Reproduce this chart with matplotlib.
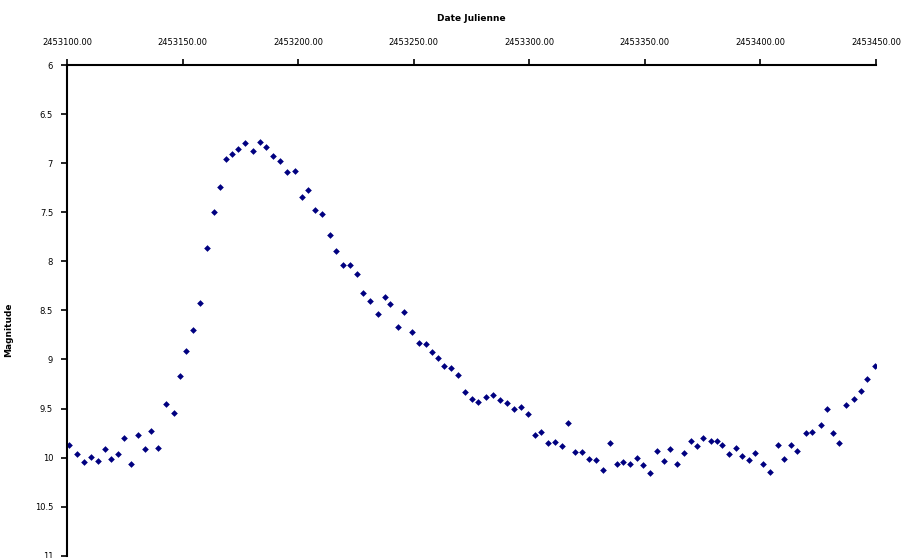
import matplotlib.pyplot as plt
from matplotlib.ticker import FormatStrFormatter, MultipleLocator

JD0 = 2453100.0    # first day on the time axis

# days after JD0 and the measured magnitude
days = [0.9, 4.3, 7.4, 10.4, 13.4, 16.5, 19.0, 22.1, 24.7, 27.7,
        30.7, 33.8, 36.4, 39.4, 42.9, 46.3, 48.9, 51.5, 54.5, 57.6,
        60.6, 63.6, 66.2, 68.8, 71.4, 74.0, 77.1, 80.5, 83.6, 86.2,
        89.2, 92.2, 95.3, 98.7, 101.8, 104.3, 107.4, 110.4, 113.9, 116.4,
        119.5, 122.5, 125.5, 128.1, 131.2, 134.6, 137.7, 139.8, 143.3, 145.9,
        149.4, 152.4, 155.4, 158.0, 160.6, 163.2, 166.2, 169.3, 172.3, 175.3,
        177.9, 181.4, 184.4, 187.4, 190.5, 193.5, 196.5, 199.6, 202.6, 205.2,
        208.2, 211.3, 214.3, 216.9, 219.9, 222.9, 226.0, 229.0, 232.0, 235.1,
        238.1, 240.7, 243.7, 246.8, 249.3, 252.4, 255.4, 258.4, 261.0, 264.1,
        267.1, 270.1, 272.7, 275.3, 278.4, 281.0, 283.5, 286.6, 289.6, 292.2,
        295.2, 297.8, 300.9, 304.3, 307.4, 310.4, 313.4, 316.0, 319.5, 322.5,
        326.0, 329.0, 331.6, 334.2, 337.2, 340.3, 343.3, 346.3, 349.4]
mags = [9.87, 9.96, 10.04, 9.99, 10.03, 9.91, 10.01, 9.96, 9.80, 10.06,
        9.77, 9.91, 9.73, 9.90, 9.45, 9.55, 9.17, 8.91, 8.70, 8.42,
        7.86, 7.50, 7.24, 6.96, 6.91, 6.86, 6.79, 6.88, 6.78, 6.84,
        6.93, 6.98, 7.09, 7.08, 7.34, 7.27, 7.48, 7.52, 7.73, 7.90,
        8.04, 8.04, 8.13, 8.32, 8.40, 8.54, 8.36, 8.43, 8.67, 8.52,
        8.72, 8.83, 8.84, 8.92, 8.99, 9.07, 9.09, 9.16, 9.33, 9.40,
        9.43, 9.38, 9.36, 9.41, 9.44, 9.50, 9.48, 9.56, 9.77, 9.74,
        9.85, 9.84, 9.88, 9.65, 9.94, 9.94, 10.01, 10.02, 10.13, 9.85,
        10.07, 10.04, 10.07, 10.00, 10.08, 10.16, 9.93, 10.03, 9.91, 10.06,
        9.95, 9.83, 9.88, 9.80, 9.83, 9.83, 9.87, 9.96, 9.90, 9.98,
        10.02, 9.95, 10.06, 10.15, 9.87, 10.01, 9.87, 9.93, 9.75, 9.74,
        9.67, 9.50, 9.75, 9.85, 9.46, 9.40, 9.32, 9.20, 9.07]

jd = [JD0 + d for d in days]

fig = plt.figure(figsize=(9.09, 5.58), dpi=100)
ax = fig.add_axes([0.0737, 0.004, 0.89, 0.8795])

ax.plot(jd, mags, linestyle='none', marker='D', markersize=3.4,
        color='#000080', markeredgewidth=0)

ax.set_xlim(JD0, JD0 + 350)
ax.set_ylim(11.0, 6.0)
ax.xaxis.set_major_locator(MultipleLocator(50))
ax.xaxis.set_major_formatter(FormatStrFormatter('%.2f'))
ax.yaxis.set_major_locator(MultipleLocator(0.5))
ax.yaxis.set_major_formatter(FormatStrFormatter('%g'))

ax.xaxis.tick_top()
ax.xaxis.set_label_position('top')
ax.set_xlabel('Date Julienne', fontsize=6.5, fontweight='bold', labelpad=12)
ax.set_ylabel('Magnitude', fontsize=6.5, fontweight='bold')
ax.yaxis.set_label_coords(-0.066, 0.46)
ax.tick_params(axis='x', labelsize=6, length=4, width=1.2, pad=9)
ax.tick_params(axis='y', labelsize=6, length=4, width=1.2, pad=6)

for side in ('right', 'bottom'):
    ax.spines[side].set_visible(False)
for side in ('top', 'left'):
    ax.spines[side].set_linewidth(1.5)

fig.savefig('out.png', dpi=100)
